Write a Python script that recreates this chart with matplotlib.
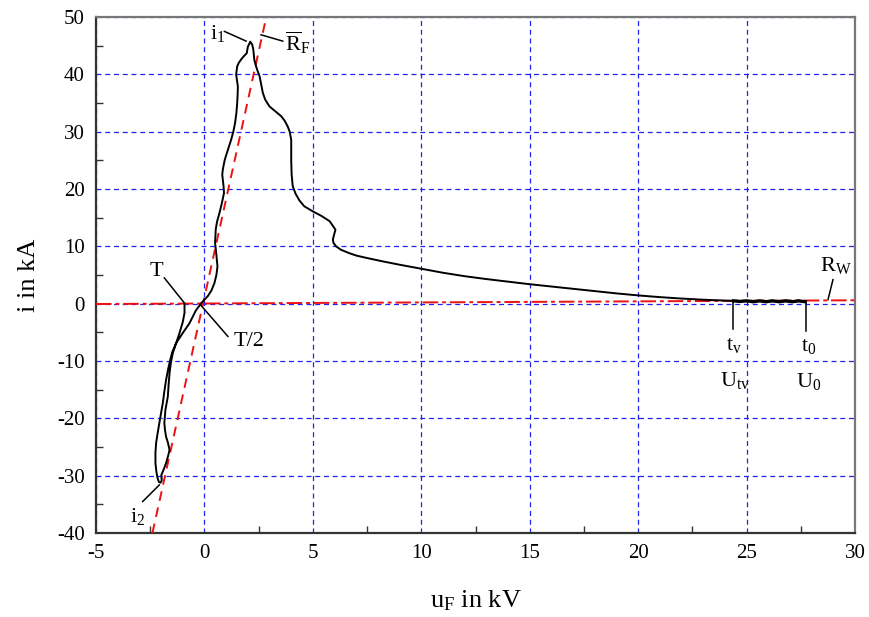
import matplotlib
matplotlib.use("Agg")
import matplotlib.pyplot as plt
import numpy as np

plt.rcParams['font.family'] = ['Liberation Serif', 'DejaVu Serif']
plt.rcParams['mathtext.fontset'] = 'custom'
plt.rcParams['mathtext.rm'] = 'Liberation Serif'
plt.rcParams['mathtext.it'] = 'Liberation Serif:italic'
plt.rcParams['axes.unicode_minus'] = False

# ---- data: arc u-i trajectory (u in kV, i in kA), traced from t0 ----
u_noise = [27.7, 27.4, 27.1, 26.8, 26.5, 26.2, 25.9, 25.6, 25.3, 25.0, 24.7, 24.4]
i_noise = [0.35, 0.5, 0.35, 0.5, 0.35, 0.5, 0.35, 0.5, 0.35, 0.5, 0.4, 0.5]

u_rise = [24.4, 24.0, 23.0, 22.0, 21.0, 20.0, 19.0, 18.0, 17.0, 16.0, 15.0, 14.0,
          13.0, 12.0, 11.0, 10.0, 9.5, 9.0, 8.2, 7.46, 7.0, 6.69, 6.3, 6.07,
          5.95, 5.92, 5.98, 6.04, 5.9, 5.77, 5.4, 5.0, 4.6, 4.38, 4.2, 4.07,
          4.02, 4.0, 4.0, 3.93, 3.84, 3.7, 3.54, 3.25, 3.0, 2.8, 2.69, 2.6,
          2.54, 2.45, 2.38, 2.3, 2.28, 2.25, 2.2, 2.11]
i_rise = [0.5, 0.55, 0.7, 0.9, 1.15, 1.45, 1.8, 2.2, 2.6, 3.0, 3.4, 3.85,
          4.3, 4.8, 5.4, 6.1, 6.45, 6.8, 7.4, 8.0, 8.4, 8.8, 9.4, 10.0,
          10.6, 11.2, 12.1, 12.9, 13.7, 14.4, 15.3, 16.1, 17.0, 18.0, 19.2, 20.5,
          22.5, 25.0, 28.6, 30.0, 30.9, 31.9, 32.7, 33.6, 34.4, 35.6, 36.8, 38.5,
          39.7, 40.6, 41.4, 42.5, 43.2, 44.4, 45.2, 45.7]

u_fall = [2.11, 2.0, 1.95, 1.8, 1.69, 1.58, 1.51, 1.46, 1.5, 1.54, 1.53, 1.51,
          1.47, 1.41, 1.33, 1.23, 1.1, 1.0, 0.93, 0.85, 0.82, 0.88, 0.9, 0.8,
          0.69, 0.58, 0.52, 0.49, 0.55, 0.6, 0.55, 0.46, 0.32, 0.15, -0.15,
          -0.4, -0.69, -1.0, -1.31, -1.48, -1.58, -1.68, -1.77, -1.85, -1.92,
          -2.0, -2.08, -2.16, -2.23, -2.26, -2.26, -2.22, -2.17, -2.1, -2.02]
i_fall = [45.7, 44.8, 43.7, 43.1, 42.6, 42.0, 41.4, 40.0, 38.9, 37.9, 36.5, 35.0,
          33.2, 31.5, 30.0, 28.6, 27.1, 25.9, 25.0, 23.5, 22.5, 20.5, 19.3, 17.5,
          15.8, 14.3, 13.0, 10.6, 8.5, 6.5, 5.0, 3.6, 2.3, 1.3, 0.1,
          -1.2, -3.4, -5.1, -6.9, -8.4, -9.8, -11.5, -13.3, -15.3, -17.3,
          -19.0, -20.8, -22.6, -24.3, -26.0, -27.8, -29.2, -30.3, -31.1, -31.2]

u_back = [-2.02, -1.97, -1.99, -1.88, -1.77, -1.68, -1.61, -1.68, -1.77, -1.82,
          -1.85, -1.8, -1.69, -1.65, -1.61, -1.55, -1.46, -1.3, -1.15, -1.0,
          -0.92, -0.92]
i_back = [-31.2, -30.8, -29.9, -28.9, -27.8, -26.6, -25.5, -24.3, -23.2, -22.0,
          -20.8, -18.5, -16.2, -14.0, -12.1, -10.3, -8.6, -6.8, -5.1, -3.2,
          -1.6, -0.1]

# mean arc resistance line R_F and arc resistance line R_W
rf_u = [-2.4, 2.85]
rf_i = [-40.0, 50.0]
rw_u = [-5.0, 30.0]
rw_i = [-0.05, 0.6]

x_ticks = [-5, 0, 5, 10, 15, 20, 25, 30]
y_ticks = [-40, -30, -20, -10, 0, 10, 20, 30, 40, 50]

fig = plt.figure(figsize=(8.69, 6.17), dpi=100)
ax = fig.add_axes([0.1105, 0.136, 0.8735, 0.8364])

ax.set_xlim(-5, 30)
ax.set_ylim(-40, 50)
ax.set_xticks(x_ticks)
ax.set_yticks(y_ticks)
ax.set_xticks(np.arange(-2.5, 30, 5), minor=True)
ax.set_yticks(np.arange(-35, 50, 10), minor=True)
ax.set_xticklabels([str(v) for v in x_ticks])
ax.set_yticklabels([str(v) for v in y_ticks])
ax.tick_params(which='both', direction='in', labelsize=15, pad=8)
ax.tick_params(which='major', length=0)
ax.tick_params(which='minor', length=5, width=1, color='#333333')

ax.grid(True, which='major', color='#2222ee', linestyle=(0, (4, 3)), linewidth=0.9)
for s in ax.spines.values():
    s.set_color('#333333')
    s.set_linewidth(1.6)
ax.spines['top'].set_color('#777777')
ax.spines['right'].set_color('#777777')

ax.plot(rw_u, rw_i, color='#ee1111', linestyle=(0, (8, 2, 2, 2)), linewidth=1.4, zorder=3)
ax.plot(rf_u, rf_i, color='#ee1111', linestyle=(0, (5, 3.5)), linewidth=1.4, zorder=3)

u_curve = u_noise + u_rise + u_fall + u_back
i_curve = i_noise + i_rise + i_fall + i_back
ax.plot(u_curve, i_curve, color='black', linewidth=1.4, zorder=4,
        solid_joinstyle='round')
# thicker noisy segment between t_v and t_0
ax.plot(u_noise, i_noise, color='black', linewidth=2.4, zorder=4)

ax.set_xlabel(r'$\mathrm{u_F}$ in kV', fontsize=19, labelpad=18)
ax.set_ylabel('i in kA', fontsize=19, labelpad=12)

lk = dict(color='black', linewidth=1.1, zorder=5)
fs = 16
# i1
ax.plot([0.92, 1.92], [47.5, 45.8], **lk)
ax.text(0.6, 47.2, r'$\mathrm{i_1}$', fontsize=fs, ha='center', va='center')
# R_F
ax.plot([2.61, 3.61], [46.9, 45.8], **lk)
ax.text(3.7, 45.5, r'$\mathrm{\overline{R}_F}$', fontsize=fs, ha='left', va='center')
# T
ax.plot([-1.85, -0.92], [4.5, 0.1], **lk)
ax.text(-2.2, 5.6, 'T', fontsize=fs, ha='center', va='center')
# T/2
ax.plot([-0.18, 1.08], [-0.2, -5.7], **lk)
ax.text(2.05, -6.6, 'T/2', fontsize=fs, ha='center', va='center')
# i2
ax.plot([-2.85, -2.08], [-34.5, -31.6], **lk)
ax.text(-3.07, -37.1, r'$\mathrm{i_2}$', fontsize=fs, ha='center', va='center')
# t_v
ax.plot([24.37, 24.37], [0.3, -4.4], **lk)
ax.text(24.4, -7.3, r'$\mathrm{t_v}$', fontsize=fs, ha='center', va='center')
ax.text(24.45, -13.4, r'$\mathrm{U_{tv}}$', fontsize=fs, ha='center', va='center')
# t_0
ax.plot([27.75, 27.75], [0.3, -4.7], **lk)
ax.text(27.85, -7.5, r'$\mathrm{t_0}$', fontsize=fs, ha='center', va='center')
ax.text(27.85, -13.6, r'$\mathrm{U_0}$', fontsize=fs, ha='center', va='center')
# R_W
ax.plot([28.98, 28.75], [4.2, 0.7], **lk)
ax.text(29.1, 6.6, r'$\mathrm{R_W}$', fontsize=fs, ha='center', va='center')

fig.savefig('out.png', dpi=100)
